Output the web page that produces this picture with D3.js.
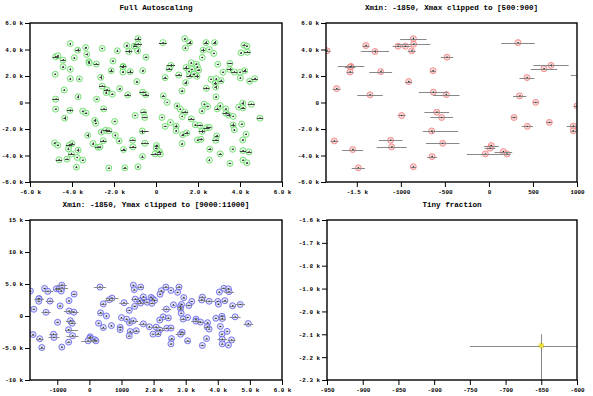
<!DOCTYPE html>
<html>
<head>
<meta charset="utf-8">
<script src="https://cdn.jsdelivr.net/npm/d3@7"></script>
<style>
  body { margin: 0; background: #fff; }
  svg { display: block; }
  text { font-family: "Liberation Mono", "DejaVu Sans Mono", monospace; font-weight: bold; fill: #000; }
</style>
</head>
<body>
<svg id="chart" width="593" height="396"></svg>
<script>
// point positions
var xs = [-858, 330, 1370, 1600, 2380, 2790, -4080, -1396, -1032, -949,
  -855, 4190, 4330, -3350, -2560, 1400, 2240, 2540, -3730, -1294,
  -877, 4350, 4050, -1839, 2750, -3300, -4780, -4670, -476, 2200,
  -4430, -3890, -3200, -3180, -2840, -2050, 1680, 1920, 705, 3520,
  2940, -1566, -1575, -4430, 1970, -4080, 1430, 1700, 625, 3500,
  4220, -2130, -1229, -635, -1577, 2030, 3190, 3730, 4000, 1570,
  1800, -4800, 1080, 1600, 1950, -4080, -3650, -2630, 432, 2620,
  3100, 2870, 4020, 4700, -911, 1410, 4460, 2830, -2560, 2840,
  -1729, -4370, -2330, 1240, -2370, -631, -2080, -1350, -484, -3710,
  349, 2860, -4780, -2830, 531, 4130, 4540, 1000, 2300, 2460,
  3060, 3940, 4140, -4780, -2490, -4100, 1160, 2920, 3320, -3490,
  -3330, -593, 1370, 2190, 3320, -991, 1250, 3460, 3680, -4350,
  -537, 285, 1680, 4950, -1970, -2920, -2870, 686, 436, 958,
  1870, 2080, 3670, 4080, 2410, 2540, 958, 3730, -2400, -2240,
  -2600, -650, 2190, -3250, -1940, 1270, 1460, 4290, 2890, -1755,
  -1116, -2510, 1980, 2140, 2840, 4130, -3000, 1240, -525, -4830,
  -4680, -4000, -4140, -2760, -2670, -1104, 27, 12, -4170, -3710,
  -1547, 2560, 3650, 4140, 4430, -41, 164, 205, -4030, 3060,
  -646, -4620, -4240, -3490, 2540, 4140, 4330, 3520, -3790, -2250,
  -1483, -858, -3750, 2400];

var ys = [4820, 4520, 4820, 4520, 4520, 4520, 4450, 4300, 4250, 4250,
  4400, 4330, 4250, 4150, 4080, 4120, 3950, 4000, 3950, 3850,
  3900, 3800, 3750, 3900, 3700, 3630, 3450, 3530, 3420, 3400,
  3200, 3380, 3080, 2980, 2900, 3130, 3000, 2900, 2800, 2950,
  2880, 2720, 2680, 2700, 2700, 2500, 2630, 2500, 2550, 2500,
  2400, 2400, 2330, 2400, 2300, 2450, 2280, 2300, 2280, 2350,
  2150, 2130, 2080, 2030, 1980, 1800, 1780, 1900, 1880, 1750,
  1650, 1800, 1850, 1800, 1580, 1500, 1600, 1450, 1230, 1150,
  1050, 950, 950, 880, 750, 780, 630, 580, 600, 430,
  500, 430, 250, 250, 10, -50, -130, -250, -130, -300,
  -230, -350, -400, -500, -480, -600, -500, -480, -480, -650,
  -800, -730, -730, -630, -800, -980, -1050, -950, -1050, -1180,
  -1130, -1130, -1230, -1180, -1430, -1350, -1580, -1500, -1800, -1780,
  -1680, -1730, -1700, -1630, -1900, -1880, -2130, -2050, -2100, -2130,
  -2230, -2150, -2180, -2480, -2480, -2430, -2300, -2400, -2530, -2900,
  -2850, -2880, -2830, -2780, -2850, -2830, -3100, -3100, -3080, -3050,
  -3230, -3100, -3230, -3380, -3350, -3350, -3250, -3450, -3500, -3600,
  -3550, -3530, -3530, -3630, -3730, -3880, -3700, -3880, -3880, -3880,
  -4080, -4330, -4280, -4350, -4350, -4350, -4550, -4600, -4880, -4950,
  -4930, -4850, -4150, 1070];

// error sizes: a number for symmetric bars, [minus, plus] otherwise
var xErr = [150, 190, 40, 100, 100, 80, 30, 40, 60, 60,
  190, 80, 40, 40, 40, 40, 90, 40, 120, 160,
  45, 150, 40, 40, 40, 60, 150, 40, 70, 40,
  120, 40, 40, 40, 120, 40, 40, 40, 200, 120,
  40, 150, 60, 40, 40, 40, 120, 40, 150, 120,
  100, 90, 130, 30, 40, 80, 40, 150, 40, 40,
  40, 40, 150, 150, 100, 40, 40, 60, 85, 40,
  100, 40, 40, 150, 40, 60, 90, 80, 150, 60,
  45, 40, 150, 60, 40, 165, 60, 145, 150, 40,
  75, 40, 160, 40, 30, 60, 170, 40, 40, 60,
  40, 40, 100, 40, 150, 150, 40, 90, 40, 40,
  60, 140, 150, 40, 150, 45, 40, 100, 40, 60,
  130, 30, 150, 150, 40, 40, 40, 30, 65, 75,
  40, 150, 100, 40, 150, 100, 30, 40, 150, 150,
  40, [100, 300], 150, 60, 40, 60, 100, 40, 90, 45,
  135, 150, 40, 90, 150, 40, 40, 40, 190, 40,
  40, 120, 150, 150, 40, 170, 85, 60, 40, 60,
  120, 80, 40, 150, 120, 210, 100, 40, 150, 80,
  55, 150, 100, 40, 40, 40, 40, 60, 40, 40,
  75, 30, 40, 150];

var yErr = [120, 40, 40, 120, 120, 120, 40, 60, 30, 30,
  60, 60, 40, 40, 40, 80, 120, 40, 120, 120,
  120, 60, 40, 80, 40, 80, 40, 40, 40, 40,
  80, 40, 40, 40, 40, 40, 40, 40, 100, 40,
  40, 120, 60, 40, 40, 80, 120, 40, 40, 120,
  120, 120, 120, 60, 60, 40, 40, 40, 40, 40,
  40, 40, 60, 100, 120, 40, 40, 150, 60, 40,
  80, 40, 40, 60, 40, 120, 40, 120, 60, 120,
  40, 40, 80, 60, 80, 40, 40, 40, 40, 120,
  60, 40, 60, 40, 30, 120, 40, 80, 40, 40,
  40, 40, 40, 40, 40, 80, 40, 80, 40, 40,
  40, 60, 80, 40, 80, 40, 40, 120, 40, 120,
  40, 40, 40, 40, 40, 120, 40, 40, 40, 100,
  40, 60, 120, 40, 80, 40, 40, 40, 80, 80,
  120, [200, 50], 120, 120, 80, 60, 100, 40, 80, 60,
  40, 60, 40, 80, 60, 40, 80, 40, 40, 40,
  40, 80, 80, 60, 40, 60, 60, 40, 80, 120,
  60, 80, 40, 40, 40, 40, 40, 40, 80, 40,
  60, 40, 40, 40, 80, 40, 40, 40, 80, 40,
  40, 40, 40, 80];

var titles = ["Full Autoscaling", "Xmin: -1850, Xmax clipped to [500:900]",
  "Xmin: -1850, Ymax clipped to [9000:11000]", "Tiny fraction"];
var xDomains = [[-6000, 6000], [-1850, 1000], [-1850, 6000], [-950, -600]];
var yDomains = [[-6000, 6000], [-6000, 6000], [-10000, 15000], [-2300, -1600]];
var xTickVals = [[-6000, -4000, -2000, 0, 2000, 4000, 6000],
  [-1500, -1000, -500, 0, 500, 1000],
  [-1000, 0, 1000, 2000, 3000, 4000, 5000, 6000],
  [-950, -900, -850, -800, -750, -700, -650, -600]];
var yTickVals = [[-6000, -4000, -2000, 0, 2000, 4000, 6000],
  [-6000, -4000, -2000, 0, 2000, 4000, 6000],
  [-10000, -5000, 0, 5000, 10000, 15000],
  [-2300, -2200, -2100, -2000, -1900, -1800, -1700, -1600]];
var strokeCols = ["#5ad85a", "#f07878", "#5a5ae8", "#e8d93a"];
var fillCols = ["#e0f9e0", "#f9c8c8", "#d4d4f8", "#f3ec8a"];

// panel boxes [left, top, right, bottom]
var boxes = [[30, 23, 282, 182], [326, 23, 577, 182], [30, 220, 282, 380], [327, 220, 577, 380]];

var svg = d3.select("#chart");

function fmt(v) {
  if (Math.abs(v) > 1000) return d3.format(".2r")(v / 1000).replace("\u2212", "-") + " k";
  return String(v);
}
function lo(e) { return Array.isArray(e) ? e[0] : e; }
function hi(e) { return Array.isArray(e) ? e[1] : e; }

var pts = xs.map(function(x, i) { return {x: x, y: ys[i], ex: xErr[i], ey: yErr[i]}; });

boxes.forEach(function(b, p) {
  var x = d3.scaleLinear().domain(xDomains[p]).range([b[0], b[2]]);
  var y = d3.scaleLinear().domain(yDomains[p]).range([b[3], b[1]]);
  var g = svg.append("g");
  var barCol = p == 0 ? "#444" : "#888";

  g.append("clipPath").attr("id", "clip" + p)
    .append("rect").attr("x", b[0]).attr("y", b[1])
    .attr("width", b[2] - b[0]).attr("height", b[3] - b[1]);

  var plot = g.append("g").attr("clip-path", "url(#clip" + p + ")");

  // markers
  plot.selectAll("circle.m").data(pts).enter().append("circle")
    .attr("cx", function(d) { return x(d.x); })
    .attr("cy", function(d) { return y(d.y); })
    .attr("r", p == 3 ? 2.6 : 3.0)
    .attr("fill", fillCols[p]).attr("fill-opacity", 0.7)
    .attr("stroke", strokeCols[p]).attr("stroke-width", 0.8);

  // error bars
  plot.selectAll(".ex").data(pts).enter().append("line")
    .attr("x1", function(d) { return x(d.x - lo(d.ex)); })
    .attr("x2", function(d) { return x(d.x + hi(d.ex)); })
    .attr("y1", function(d) { return Math.round(y(d.y)) + 0.5; })
    .attr("y2", function(d) { return Math.round(y(d.y)) + 0.5; })
    .attr("stroke", barCol).attr("stroke-width", 1);
  plot.selectAll(".ey").data(pts).enter().append("line")
    .attr("x1", function(d) { return Math.round(x(d.x)) + 0.5; })
    .attr("x2", function(d) { return Math.round(x(d.x)) + 0.5; })
    .attr("y1", function(d) { return y(d.y - lo(d.ey)); })
    .attr("y2", function(d) { return y(d.y + hi(d.ey)); })
    .attr("stroke", barCol).attr("stroke-width", 1);

  if (p == 3) {
    plot.selectAll("circle.t").data(pts).enter().append("circle")
      .attr("cx", function(d) { return x(d.x); })
      .attr("cy", function(d) { return y(d.y); })
      .attr("r", 2).attr("fill", "#eedd33");
  } else {
    plot.selectAll("circle.c").data(pts).enter().append("circle")
      .attr("cx", function(d) { return x(d.x); })
      .attr("cy", function(d) { return y(d.y); })
      .attr("r", 0.7).attr("fill", "#333");
  }

  // frame
  g.append("rect").attr("x", b[0]).attr("y", b[1])
    .attr("width", b[2] - b[0]).attr("height", b[3] - b[1])
    .attr("fill", "none").attr("stroke", "#000").attr("stroke-width", 1.4);

  var xa = g.append("g").attr("transform", "translate(0," + b[3] + ")")
    .call(d3.axisBottom(x).tickValues(xTickVals[p]).tickFormat(fmt).tickSize(5).tickPadding(3));
  var ya = g.append("g").attr("transform", "translate(" + b[0] + ",0)")
    .call(d3.axisLeft(y).tickValues(yTickVals[p]).tickFormat(fmt).tickSize(5).tickPadding(2));
  [xa, ya].forEach(function(a) {
    a.select(".domain").remove();
    a.selectAll("line").attr("stroke", "#000");
    a.selectAll("text").attr("font-size", "5.9px")
      .style("font-family", "'Liberation Mono', monospace").style("font-weight", "bold");
  });

  g.append("text").attr("x", (b[0] + b[2]) / 2).attr("y", b[1] - 13)
    .attr("text-anchor", "middle").attr("font-size", "7.6px").text(titles[p]);
});
</script>
</body>
</html>
